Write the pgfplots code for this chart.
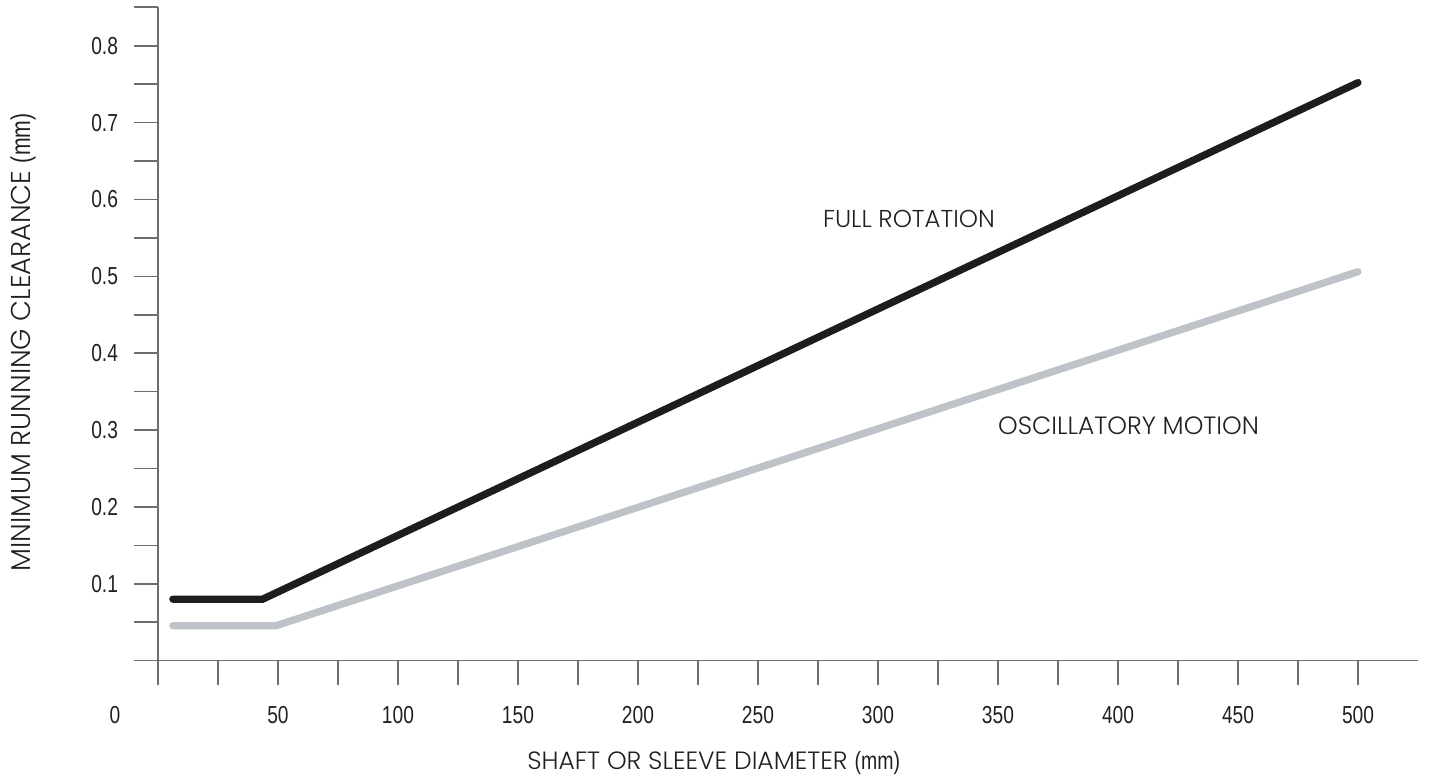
\documentclass[border=0pt]{standalone}
\usepackage{fontspec}
\usepackage{pgfplots}
\pgfplotsset{compat=1.18}
\setmainfont{Poppins Light}
\newfontfamily\ticksfont[FakeStretch=0.78]{Liberation Sans}
\definecolor{axisgray}{RGB}{110,110,110}
\definecolor{txt}{RGB}{35,31,32}
\definecolor{lineblack}{RGB}{30,28,29}
\definecolor{lightline}{RGB}{190,195,201}
\begin{document}
\begin{tikzpicture}
\begin{axis}[name=ax, scale only axis, width=630pt, height=326.7pt,
  xmin=0, xmax=525, ymin=0, ymax=0.85,
  axis lines=left, axis line style={-, draw=axisgray, line width=0.8pt},
  tick style={draw=axisgray, line width=0.8pt}, tick align=outside,
  major tick length=12pt,
  xtick={0,25,...,500},
  xticklabels={,,50,,100,,150,,200,,250,,300,,350,,400,,450,,500},
  ytick={0,0.05,0.1,0.15,0.2,0.25,0.3,0.35,0.4,0.45,0.5,0.55,0.6,0.65,0.7,0.75,0.8,0.85},
  yticklabels={,,0.1,,0.2,,0.3,,0.4,,0.5,,0.6,,0.7,,0.8,},
  tick label style={font=\ticksfont\fontsize{12.3}{13}\selectfont, text=txt},
  xticklabel style={yshift=-7.5pt},
  yticklabel style={xshift=-4.5pt},
  clip=false,
  xlabel={SHAFT OR SLEEVE DIAMETER {\ticksfont (mm)}},
  ylabel={MINIMUM RUNNING CLEARANCE {\ticksfont (mm)}},
  label style={text=txt},
  xlabel style={font=\fontsize{12.5}{14}\selectfont, at={([yshift=-51.15pt]axis description cs:0.441,0)}, anchor=center},
  ylabel style={font=\fontsize{13.6}{15}\selectfont, at={([xshift=-67.5pt]axis description cs:0,0.487)}, anchor=center},
]
\addplot[draw=lineblack, line width=3.65pt, line cap=round] coordinates {(6.2,0.080) (43.6,0.080) (500,0.752)};
\addplot[draw=lightline, line width=3.65pt, line cap=round] coordinates {(6.2,0.0455) (49.2,0.0455) (500,0.506)};
\node[font=\fontsize{12.2}{14}\selectfont, text=txt] at (axis cs:312.9,0.575) {FULL ROTATION};
\node[font=\fontsize{12.5}{14}\selectfont, text=txt] at (axis cs:404.4,0.3056) {OSCILLATORY MOTION};
\node[font=\ticksfont\fontsize{12.3}{13}\selectfont, text=txt] at ([xshift=-21.5pt,yshift=-27.15pt]axis cs:0,0) {0};
\end{axis}
\pgfresetboundingbox
\path[use as bounding box] ([xshift=-79pt,yshift=-60.15pt]ax.south west) rectangle ([xshift=5.5pt,yshift=3.65pt]ax.north east);
\end{tikzpicture}
\end{document}
